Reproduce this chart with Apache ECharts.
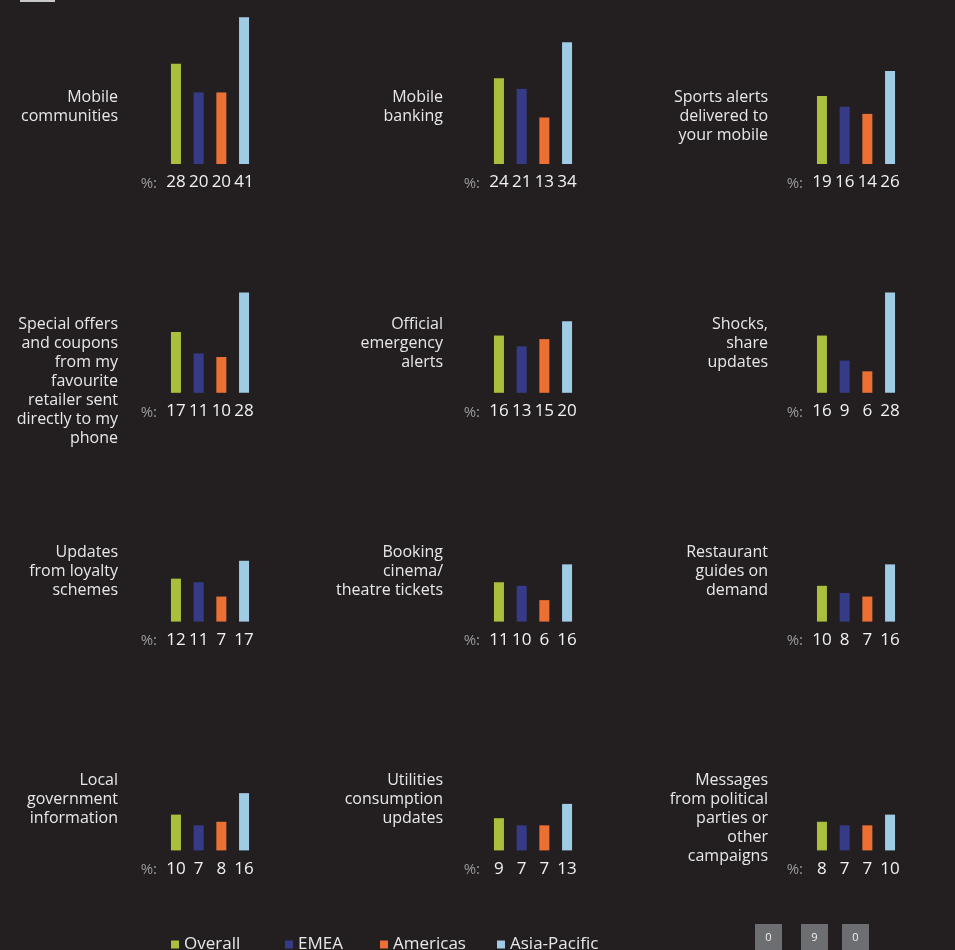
<!DOCTYPE html>
<html><head><meta charset="utf-8">
<script src="https://cdn.jsdelivr.net/npm/echarts@6/dist/echarts.min.js"></script>
<style>html,body{margin:0;padding:0;background:#231f20;overflow:hidden}#c{width:955px;height:950px}</style>
</head><body><div id="c"></div>
<script>
const topics = [
  'Mobile\ncommunities',
  'Mobile\nbanking',
  'Sports alerts\ndelivered to\nyour mobile',
  'Special offers\nand coupons\nfrom my\nfavourite\nretailer sent\ndirectly to my\nphone',
  'Official\nemergency\nalerts',
  'Shocks,\nshare\nupdates',
  'Updates\nfrom loyalty\nschemes',
  'Booking\ncinema/\ntheatre tickets',
  'Restaurant\nguides on\ndemand',
  'Local\ngovernment\ninformation',
  'Utilities\nconsumption\nupdates',
  'Messages\nfrom political\nparties or\nother\ncampaigns'
];
const overall     = [28, 24, 19, 17, 16, 16, 12, 11, 10, 10, 9, 8];
const emea        = [20, 21, 16, 11, 13,  9, 11, 10,  8,  7, 7, 7];
const americas    = [20, 13, 14, 10, 15,  6,  7,  6,  7,  8, 7, 7];
const asiaPacific = [41, 34, 26, 28, 20, 28, 17, 16, 16, 16, 13, 10];
const regions = ['Overall', 'EMEA', 'Americas', 'Asia-Pacific'];
const pageNumbers = ['0', '9', '0'];

const seriesValues = [overall, emea, americas, asiaPacific];
const colors = ['#aabf3c', '#363b87', '#ec7034', '#9fcbe5'];
const FONT = '"Open Sans", "Noto Sans", sans-serif';

const colCenter = [210, 533, 856];
const baseY0 = 164, rowStep = 228.8;
const labelTop0 = 87.5, labelStep = 227.7;
const labelRight = [118, 443, 768];
const YMAX = 45, plotH = 161;

const grids = [], xAxes = [], yAxes = [], series = [], graphics = [];
topics.forEach((t, i) => {
  const col = i % 3, row = Math.floor(i / 3);
  const cx = colCenter[col];
  const base = baseY0 + row * rowStep;
  grids.push({left: cx - 50, width: 100, top: base - plotH, height: plotH});
  xAxes.push({type: 'category', gridIndex: i, data: [''], show: false});
  yAxes.push({type: 'value', gridIndex: i, min: 0, max: YMAX, show: false});
  seriesValues.forEach((vals, k) => {
    series.push({
      type: 'bar', name: regions[k], xAxisIndex: i, yAxisIndex: i,
      data: [vals[i]], barWidth: 10, barGap: '127%',
      itemStyle: {color: colors[k]},
      label: {show: true, position: 'bottom', distance: 10, color: '#f2f2f2',
              fontSize: 17, fontFamily: FONT},
      silent: true
    });
  });
  graphics.push({
    type: 'text', x: labelRight[col], y: labelTop0 + row * labelStep,
    style: {text: t, textAlign: 'right', textVerticalAlign: 'top',
            font: '16px ' + FONT, lineHeight: 19, fill: '#e8e8e8'}
  });
  graphics.push({
    type: 'text', x: cx - 53, y: base + 19.5,
    style: {text: '%:', textAlign: 'right', textVerticalAlign: 'middle',
            font: '15px ' + FONT, fill: '#9a9a9a'}
  });
});

// page decorations
graphics.push({type: 'rect', shape: {x: 20, y: 0, width: 35, height: 2}, style: {fill: '#c8c8c8'}});
const boxX = [755, 801, 842];
pageNumbers.forEach((p, j) => {
  graphics.push({type: 'rect', shape: {x: boxX[j], y: 924, width: 27, height: 30}, style: {fill: '#6d6e71'}});
  graphics.push({type: 'text', x: boxX[j] + 13.5, y: 938,
    style: {text: p, textAlign: 'center', textVerticalAlign: 'middle', font: '11px ' + FONT, fill: '#f0f0f0'}});
});

const legendLeft = [171, 285, 380, 497];
const legends = regions.map((r, k) => ({
  data: [r], left: legendLeft[k], top: 936, padding: 0, itemGap: 0,
  itemWidth: 8, itemHeight: 8, icon: 'rect',
  textStyle: {color: '#e8e8e8', fontSize: 17, fontFamily: FONT}
}));

const chart = echarts.init(document.getElementById('c'), null, {renderer: 'canvas'});
chart.setOption({
  backgroundColor: '#231f20',
  animation: false,
  grid: grids, xAxis: xAxes, yAxis: yAxes, series: series,
  legend: legends,
  graphic: graphics
});
</script></body></html>
